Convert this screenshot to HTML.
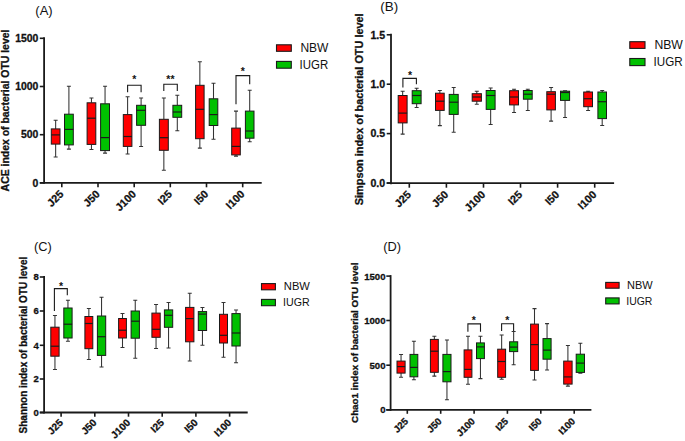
<!DOCTYPE html>
<html><head><meta charset="utf-8"><style>
html,body{margin:0;padding:0;background:#fff;}
svg{display:block;font-family:"Liberation Sans", sans-serif;}
.b{stroke:#111;stroke-width:0.3px;}
</style></head><body>
<svg width="685" height="441" viewBox="0 0 685 441">
<rect width="685" height="441" fill="#fff"/>
<g id="pA"><text x="35.3" y="14.9" font-size="13" fill="#111">(A)</text>
<text transform="translate(9.2,110.5) rotate(-90)" class="b" text-anchor="middle" font-weight="bold" font-size="10.45" fill="#111">ACE index of bacterial OTU level</text>
<line x1="44.1" y1="37.3" x2="44.1" y2="183.8" stroke="#1a1a1a" stroke-width="1.8"/>
<line x1="39.8" y1="38.3" x2="44.1" y2="38.3" stroke="#1a1a1a" stroke-width="1.6"/>
<text x="38.4" y="42.04" class="b" text-anchor="end" font-weight="bold" font-size="10.4" fill="#111">1500</text>
<line x1="39.8" y1="86.5" x2="44.1" y2="86.5" stroke="#1a1a1a" stroke-width="1.6"/>
<text x="38.4" y="90.24" class="b" text-anchor="end" font-weight="bold" font-size="10.4" fill="#111">1000</text>
<line x1="39.8" y1="134.7" x2="44.1" y2="134.7" stroke="#1a1a1a" stroke-width="1.6"/>
<text x="38.4" y="138.44" class="b" text-anchor="end" font-weight="bold" font-size="10.4" fill="#111">500</text>
<line x1="39.8" y1="182.8" x2="44.1" y2="182.8" stroke="#1a1a1a" stroke-width="1.6"/>
<text x="38.4" y="186.54" class="b" text-anchor="end" font-weight="bold" font-size="10.4" fill="#111">0</text>
<line x1="39.8" y1="182.8" x2="261.7" y2="182.8" stroke="#1a1a1a" stroke-width="1.8"/>
<line x1="61.8" y1="182.8" x2="61.8" y2="187.3" stroke="#1a1a1a" stroke-width="1.6"/>
<text transform="translate(64.3,194.8) rotate(-45)" class="b" text-anchor="end" font-weight="bold" font-size="10.8" fill="#111">J25</text>
<line x1="98" y1="182.8" x2="98" y2="187.3" stroke="#1a1a1a" stroke-width="1.6"/>
<text transform="translate(100.5,194.8) rotate(-45)" class="b" text-anchor="end" font-weight="bold" font-size="10.8" fill="#111">J50</text>
<line x1="134.2" y1="182.8" x2="134.2" y2="187.3" stroke="#1a1a1a" stroke-width="1.6"/>
<text transform="translate(136.7,194.8) rotate(-45)" class="b" text-anchor="end" font-weight="bold" font-size="10.8" fill="#111">J100</text>
<line x1="170.3" y1="182.8" x2="170.3" y2="187.3" stroke="#1a1a1a" stroke-width="1.6"/>
<text transform="translate(172.8,194.8) rotate(-45)" class="b" text-anchor="end" font-weight="bold" font-size="10.8" fill="#111">I25</text>
<line x1="206.5" y1="182.8" x2="206.5" y2="187.3" stroke="#1a1a1a" stroke-width="1.6"/>
<text transform="translate(209,194.8) rotate(-45)" class="b" text-anchor="end" font-weight="bold" font-size="10.8" fill="#111">I50</text>
<line x1="242.7" y1="182.8" x2="242.7" y2="187.3" stroke="#1a1a1a" stroke-width="1.6"/>
<text transform="translate(245.2,194.8) rotate(-45)" class="b" text-anchor="end" font-weight="bold" font-size="10.8" fill="#111">I100</text>
<path d="M55.65 120.2V128.9M55.65 144.1V157M53.65 120.2H57.65M53.65 157H57.65" stroke="#333" stroke-width="1.05" fill="none"/>
<rect x="51.3" y="128.9" width="8.7" height="15.2" fill="#ff0000" stroke="#1a1a1a" stroke-width="1.0"/>
<line x1="51.3" y1="134.9" x2="60" y2="134.9" stroke="#1a1a1a" stroke-width="1.2"/>
<path d="M68.9 86.3V114.2M68.9 144.9V149.1M66.9 86.3H70.9M66.9 149.1H70.9" stroke="#333" stroke-width="1.05" fill="none"/>
<rect x="64.5" y="114.2" width="8.8" height="30.7" fill="#00c000" stroke="#1a1a1a" stroke-width="1.0"/>
<line x1="64.5" y1="129.4" x2="73.3" y2="129.4" stroke="#1a1a1a" stroke-width="1.2"/>
<path d="M91.45 98V102.8M91.45 144.4V149.4M89.45 98H93.45M89.45 149.4H93.45" stroke="#333" stroke-width="1.05" fill="none"/>
<rect x="87.1" y="102.8" width="8.7" height="41.6" fill="#ff0000" stroke="#1a1a1a" stroke-width="1.0"/>
<line x1="87.1" y1="118.2" x2="95.8" y2="118.2" stroke="#1a1a1a" stroke-width="1.2"/>
<path d="M105.05 86.3V103.8M105.05 150.6V153.1M103.05 86.3H107.05M103.05 153.1H107.05" stroke="#333" stroke-width="1.05" fill="none"/>
<rect x="100.6" y="103.8" width="8.9" height="46.8" fill="#00c000" stroke="#1a1a1a" stroke-width="1.0"/>
<line x1="100.6" y1="137.6" x2="109.5" y2="137.6" stroke="#1a1a1a" stroke-width="1.2"/>
<path d="M127.6 96.8V114.6M127.6 146.4V153.9M125.6 96.8H129.6M125.6 153.9H129.6" stroke="#333" stroke-width="1.05" fill="none"/>
<rect x="123.3" y="114.6" width="8.6" height="31.8" fill="#ff0000" stroke="#1a1a1a" stroke-width="1.0"/>
<line x1="123.3" y1="136.5" x2="131.9" y2="136.5" stroke="#1a1a1a" stroke-width="1.2"/>
<path d="M141.1 98V105.3M141.1 125.3V146.4M139.1 98H143.1M139.1 146.4H143.1" stroke="#333" stroke-width="1.05" fill="none"/>
<rect x="136.6" y="105.3" width="9" height="20" fill="#00c000" stroke="#1a1a1a" stroke-width="1.0"/>
<line x1="136.6" y1="110.3" x2="145.6" y2="110.3" stroke="#1a1a1a" stroke-width="1.2"/>
<path d="M163.85 98V119.3M163.85 150.3V170.3M161.85 98H165.85M161.85 170.3H165.85" stroke="#333" stroke-width="1.05" fill="none"/>
<rect x="159.4" y="119.3" width="8.9" height="31" fill="#ff0000" stroke="#1a1a1a" stroke-width="1.0"/>
<line x1="159.4" y1="137.7" x2="168.3" y2="137.7" stroke="#1a1a1a" stroke-width="1.2"/>
<path d="M177.3 95.3V105.3M177.3 117.3V130.8M175.3 95.3H179.3M175.3 130.8H179.3" stroke="#333" stroke-width="1.05" fill="none"/>
<rect x="172.9" y="105.3" width="8.8" height="12" fill="#00c000" stroke="#1a1a1a" stroke-width="1.0"/>
<line x1="172.9" y1="112" x2="181.7" y2="112" stroke="#1a1a1a" stroke-width="1.2"/>
<path d="M199.85 61.7V85.3M199.85 138.7V148.1M197.85 61.7H201.85M197.85 148.1H201.85" stroke="#333" stroke-width="1.05" fill="none"/>
<rect x="195.6" y="85.3" width="8.5" height="53.4" fill="#ff0000" stroke="#1a1a1a" stroke-width="1.0"/>
<line x1="195.6" y1="109.3" x2="204.1" y2="109.3" stroke="#1a1a1a" stroke-width="1.2"/>
<path d="M213.5 83.3V98.8M213.5 125.5V139.2M211.5 83.3H215.5M211.5 139.2H215.5" stroke="#333" stroke-width="1.05" fill="none"/>
<rect x="209.2" y="98.8" width="8.6" height="26.7" fill="#00c000" stroke="#1a1a1a" stroke-width="1.0"/>
<line x1="209.2" y1="114.6" x2="217.8" y2="114.6" stroke="#1a1a1a" stroke-width="1.2"/>
<path d="M236 111.1V128.1M236 154.9V156.1M234 111.1H238M234 156.1H238" stroke="#333" stroke-width="1.05" fill="none"/>
<rect x="231.7" y="128.1" width="8.6" height="26.8" fill="#ff0000" stroke="#1a1a1a" stroke-width="1.0"/>
<line x1="231.7" y1="146.4" x2="240.3" y2="146.4" stroke="#1a1a1a" stroke-width="1.2"/>
<path d="M249.7 90.3V111.1M249.7 138.2V141.7M247.7 90.3H251.7M247.7 141.7H251.7" stroke="#333" stroke-width="1.05" fill="none"/>
<rect x="245.4" y="111.1" width="8.6" height="27.1" fill="#00c000" stroke="#1a1a1a" stroke-width="1.0"/>
<line x1="245.4" y1="131" x2="254" y2="131" stroke="#1a1a1a" stroke-width="1.2"/>
<path d="M127.6 92.3V85.3H141.1V92.3" stroke="#1a1a1a" stroke-width="1.1" fill="none"/>
<text x="134.4" y="83.3" text-anchor="middle" font-weight="bold" font-size="10.5" fill="#111">*</text>
<path d="M163.8 91V84.3H177.3V91" stroke="#1a1a1a" stroke-width="1.1" fill="none"/>
<text x="170.4" y="82.8" text-anchor="middle" font-weight="bold" font-size="10.5" fill="#111">**</text>
<path d="M236 104.3V75.6H249.7V84.3" stroke="#1a1a1a" stroke-width="1.1" fill="none"/>
<text x="242.8" y="74.5" text-anchor="middle" font-weight="bold" font-size="10.5" fill="#111">*</text>
<rect x="276.5" y="44.8" width="14.8" height="6.5" fill="#ff0000" stroke="#1a1a1a" stroke-width="1.1"/>
<text x="300.4" y="52.3" font-size="12" fill="#111">NBW</text>
<rect x="276.5" y="61.4" width="14.8" height="6.8" fill="#00c000" stroke="#1a1a1a" stroke-width="1.1"/>
<text x="299.6" y="68.8" font-size="12" fill="#111" textLength="28.6" lengthAdjust="spacingAndGlyphs">IUGR</text></g>
<g id="pB"><text x="380.3" y="11" font-size="13.4" fill="#111">(B)</text>
<text transform="translate(363.4,109.3) rotate(-90)" class="b" text-anchor="middle" font-weight="bold" font-size="10.9" fill="#111">Simpson index of bacterial OTU level</text>
<line x1="391" y1="33.8" x2="391" y2="184.2" stroke="#1a1a1a" stroke-width="1.8"/>
<line x1="386.7" y1="34.8" x2="391" y2="34.8" stroke="#1a1a1a" stroke-width="1.6"/>
<text x="385.2" y="38.62" class="b" text-anchor="end" font-weight="bold" font-size="10.6" fill="#111">1.5</text>
<line x1="386.7" y1="84.2" x2="391" y2="84.2" stroke="#1a1a1a" stroke-width="1.6"/>
<text x="385.2" y="88.02" class="b" text-anchor="end" font-weight="bold" font-size="10.6" fill="#111">1.0</text>
<line x1="386.7" y1="133.6" x2="391" y2="133.6" stroke="#1a1a1a" stroke-width="1.6"/>
<text x="385.2" y="137.42" class="b" text-anchor="end" font-weight="bold" font-size="10.6" fill="#111">0.5</text>
<line x1="386.7" y1="183" x2="391" y2="183" stroke="#1a1a1a" stroke-width="1.6"/>
<text x="385.2" y="186.82" class="b" text-anchor="end" font-weight="bold" font-size="10.6" fill="#111">0.0</text>
<line x1="386.7" y1="183.2" x2="614.1" y2="183.2" stroke="#1a1a1a" stroke-width="1.8"/>
<line x1="409.3" y1="183.2" x2="409.3" y2="187.7" stroke="#1a1a1a" stroke-width="1.6"/>
<text transform="translate(411.8,195.2) rotate(-45)" class="b" text-anchor="end" font-weight="bold" font-size="10.8" fill="#111">J25</text>
<line x1="446.4" y1="183.2" x2="446.4" y2="187.7" stroke="#1a1a1a" stroke-width="1.6"/>
<text transform="translate(448.9,195.2) rotate(-45)" class="b" text-anchor="end" font-weight="bold" font-size="10.8" fill="#111">J50</text>
<line x1="483.5" y1="183.2" x2="483.5" y2="187.7" stroke="#1a1a1a" stroke-width="1.6"/>
<text transform="translate(486,195.2) rotate(-45)" class="b" text-anchor="end" font-weight="bold" font-size="10.8" fill="#111">J100</text>
<line x1="520.5" y1="183.2" x2="520.5" y2="187.7" stroke="#1a1a1a" stroke-width="1.6"/>
<text transform="translate(523,195.2) rotate(-45)" class="b" text-anchor="end" font-weight="bold" font-size="10.8" fill="#111">I25</text>
<line x1="557.6" y1="183.2" x2="557.6" y2="187.7" stroke="#1a1a1a" stroke-width="1.6"/>
<text transform="translate(560.1,195.2) rotate(-45)" class="b" text-anchor="end" font-weight="bold" font-size="10.8" fill="#111">I50</text>
<line x1="594.7" y1="183.2" x2="594.7" y2="187.7" stroke="#1a1a1a" stroke-width="1.6"/>
<text transform="translate(597.2,195.2) rotate(-45)" class="b" text-anchor="end" font-weight="bold" font-size="10.8" fill="#111">I100</text>
<path d="M402.65 91.2V95.5M402.65 122.9V134.1M400.65 91.2H404.65M400.65 134.1H404.65" stroke="#333" stroke-width="1.05" fill="none"/>
<rect x="398.2" y="95.5" width="8.9" height="27.4" fill="#ff0000" stroke="#1a1a1a" stroke-width="1.0"/>
<line x1="398.2" y1="113.1" x2="407.1" y2="113.1" stroke="#1a1a1a" stroke-width="1.2"/>
<path d="M416.65 88.2V90.7M416.65 103.7V107.4M414.65 88.2H418.65M414.65 107.4H418.65" stroke="#333" stroke-width="1.05" fill="none"/>
<rect x="412.2" y="90.7" width="8.9" height="13" fill="#00c000" stroke="#1a1a1a" stroke-width="1.0"/>
<line x1="412.2" y1="95.5" x2="421.1" y2="95.5" stroke="#1a1a1a" stroke-width="1.2"/>
<path d="M439.85 90.5V93.2M439.85 110.4V125.6M437.85 90.5H441.85M437.85 125.6H441.85" stroke="#333" stroke-width="1.05" fill="none"/>
<rect x="435.5" y="93.2" width="8.7" height="17.2" fill="#ff0000" stroke="#1a1a1a" stroke-width="1.0"/>
<line x1="435.5" y1="101.2" x2="444.2" y2="101.2" stroke="#1a1a1a" stroke-width="1.2"/>
<path d="M453.7 87.5V94.4M453.7 114.4V132.3M451.7 87.5H455.7M451.7 132.3H455.7" stroke="#333" stroke-width="1.05" fill="none"/>
<rect x="449.2" y="94.4" width="9" height="20" fill="#00c000" stroke="#1a1a1a" stroke-width="1.0"/>
<line x1="449.2" y1="102.2" x2="458.2" y2="102.2" stroke="#1a1a1a" stroke-width="1.2"/>
<path d="M476.8 91.2V93.7M476.8 101.2V104.2M474.8 91.2H478.8M474.8 104.2H478.8" stroke="#333" stroke-width="1.05" fill="none"/>
<rect x="472.2" y="93.7" width="9.2" height="7.5" fill="#ff0000" stroke="#1a1a1a" stroke-width="1.0"/>
<line x1="472.2" y1="97" x2="481.4" y2="97" stroke="#1a1a1a" stroke-width="1.2"/>
<path d="M490.65 88V90.5M490.65 109.4V124.4M488.65 88H492.65M488.65 124.4H492.65" stroke="#333" stroke-width="1.05" fill="none"/>
<rect x="486.2" y="90.5" width="8.9" height="18.9" fill="#00c000" stroke="#1a1a1a" stroke-width="1.0"/>
<line x1="486.2" y1="95.5" x2="495.1" y2="95.5" stroke="#1a1a1a" stroke-width="1.2"/>
<path d="M514.05 89.2V90.7M514.05 104.9V112.4M512.05 89.2H516.05M512.05 112.4H516.05" stroke="#333" stroke-width="1.05" fill="none"/>
<rect x="509.6" y="90.7" width="8.9" height="14.2" fill="#ff0000" stroke="#1a1a1a" stroke-width="1.0"/>
<line x1="509.6" y1="97" x2="518.5" y2="97" stroke="#1a1a1a" stroke-width="1.2"/>
<path d="M527.8 89.2V90.5M527.8 99.2V110.4M525.8 89.2H529.8M525.8 110.4H529.8" stroke="#333" stroke-width="1.05" fill="none"/>
<rect x="523.4" y="90.5" width="8.8" height="8.7" fill="#00c000" stroke="#1a1a1a" stroke-width="1.0"/>
<line x1="523.4" y1="94.2" x2="532.2" y2="94.2" stroke="#1a1a1a" stroke-width="1.2"/>
<path d="M551.1 87.5V91.7M551.1 109.9V121.1M549.1 87.5H553.1M549.1 121.1H553.1" stroke="#333" stroke-width="1.05" fill="none"/>
<rect x="546.8" y="91.7" width="8.6" height="18.2" fill="#ff0000" stroke="#1a1a1a" stroke-width="1.0"/>
<line x1="546.8" y1="94.2" x2="555.4" y2="94.2" stroke="#1a1a1a" stroke-width="1.2"/>
<path d="M565.05 90.7V91.2M565.05 100.4V117.4M563.05 90.7H567.05M563.05 117.4H567.05" stroke="#333" stroke-width="1.05" fill="none"/>
<rect x="560.5" y="91.2" width="9.1" height="9.2" fill="#00c000" stroke="#1a1a1a" stroke-width="1.0"/>
<line x1="560.5" y1="92.5" x2="569.6" y2="92.5" stroke="#1a1a1a" stroke-width="1.2"/>
<path d="M588.1 91.2V92M588.1 106.7V110.4M586.1 91.2H590.1M586.1 110.4H590.1" stroke="#333" stroke-width="1.05" fill="none"/>
<rect x="583.7" y="92" width="8.8" height="14.7" fill="#ff0000" stroke="#1a1a1a" stroke-width="1.0"/>
<line x1="583.7" y1="98.7" x2="592.5" y2="98.7" stroke="#1a1a1a" stroke-width="1.2"/>
<path d="M602.2 90.5V92M602.2 118.6V125.4M600.2 90.5H604.2M600.2 125.4H604.2" stroke="#333" stroke-width="1.05" fill="none"/>
<rect x="597.9" y="92" width="8.6" height="26.6" fill="#00c000" stroke="#1a1a1a" stroke-width="1.0"/>
<line x1="597.9" y1="101.7" x2="606.5" y2="101.7" stroke="#1a1a1a" stroke-width="1.2"/>
<path d="M402.9 87.5V78.4H416.4V84.3" stroke="#1a1a1a" stroke-width="1.1" fill="none"/>
<text x="410.1" y="78.8" text-anchor="middle" font-weight="bold" font-size="10.5" fill="#111">*</text>
<rect x="629.8" y="41.7" width="15.2" height="6.7" fill="#ff0000" stroke="#1a1a1a" stroke-width="1.1"/>
<text x="654.4" y="49.4" font-size="12.2" fill="#111">NBW</text>
<rect x="629.8" y="58.5" width="15.2" height="7.1" fill="#00c000" stroke="#1a1a1a" stroke-width="1.1"/>
<text x="653.6" y="66.2" font-size="12.2" fill="#111" textLength="29.1" lengthAdjust="spacingAndGlyphs">IUGR</text></g>
<g id="pC"><text x="34" y="250.8" font-size="12.8" fill="#111">(C)</text>
<text transform="translate(26.9,345.1) rotate(-90)" class="b" text-anchor="middle" font-weight="bold" font-size="10.0" fill="#111">Shannon index of bacterial OTU level</text>
<line x1="44.1" y1="276" x2="44.1" y2="413.5" stroke="#1a1a1a" stroke-width="1.8"/>
<line x1="39.8" y1="277" x2="44.1" y2="277" stroke="#1a1a1a" stroke-width="1.6"/>
<text x="38.8" y="280.42" class="b" text-anchor="end" font-weight="bold" font-size="9.5" fill="#111">8</text>
<line x1="39.8" y1="311" x2="44.1" y2="311" stroke="#1a1a1a" stroke-width="1.6"/>
<text x="38.8" y="314.42" class="b" text-anchor="end" font-weight="bold" font-size="9.5" fill="#111">6</text>
<line x1="39.8" y1="345.3" x2="44.1" y2="345.3" stroke="#1a1a1a" stroke-width="1.6"/>
<text x="38.8" y="348.72" class="b" text-anchor="end" font-weight="bold" font-size="9.5" fill="#111">4</text>
<line x1="39.8" y1="379" x2="44.1" y2="379" stroke="#1a1a1a" stroke-width="1.6"/>
<text x="38.8" y="382.42" class="b" text-anchor="end" font-weight="bold" font-size="9.5" fill="#111">2</text>
<line x1="39.8" y1="412.5" x2="44.1" y2="412.5" stroke="#1a1a1a" stroke-width="1.6"/>
<text x="38.8" y="415.92" class="b" text-anchor="end" font-weight="bold" font-size="9.5" fill="#111">0</text>
<line x1="39.8" y1="412.5" x2="247.7" y2="412.5" stroke="#1a1a1a" stroke-width="1.8"/>
<line x1="61.1" y1="412.5" x2="61.1" y2="416.7" stroke="#1a1a1a" stroke-width="1.6"/>
<text transform="translate(63.6,423.3) rotate(-45)" class="b" text-anchor="end" font-weight="bold" font-size="10.1" fill="#111">J25</text>
<line x1="94.8" y1="412.5" x2="94.8" y2="416.7" stroke="#1a1a1a" stroke-width="1.6"/>
<text transform="translate(97.3,423.3) rotate(-45)" class="b" text-anchor="end" font-weight="bold" font-size="10.1" fill="#111">J50</text>
<line x1="128.5" y1="412.5" x2="128.5" y2="416.7" stroke="#1a1a1a" stroke-width="1.6"/>
<text transform="translate(131,423.3) rotate(-45)" class="b" text-anchor="end" font-weight="bold" font-size="10.1" fill="#111">J100</text>
<line x1="162.2" y1="412.5" x2="162.2" y2="416.7" stroke="#1a1a1a" stroke-width="1.6"/>
<text transform="translate(164.7,423.3) rotate(-45)" class="b" text-anchor="end" font-weight="bold" font-size="10.1" fill="#111">I25</text>
<line x1="195.9" y1="412.5" x2="195.9" y2="416.7" stroke="#1a1a1a" stroke-width="1.6"/>
<text transform="translate(198.4,423.3) rotate(-45)" class="b" text-anchor="end" font-weight="bold" font-size="10.1" fill="#111">I50</text>
<line x1="229.6" y1="412.5" x2="229.6" y2="416.7" stroke="#1a1a1a" stroke-width="1.6"/>
<text transform="translate(232.1,423.3) rotate(-45)" class="b" text-anchor="end" font-weight="bold" font-size="10.1" fill="#111">I100</text>
<path d="M54.95 315.5V327.2M54.95 356.2V369.4M52.95 315.5H56.95M52.95 369.4H56.95" stroke="#333" stroke-width="1.05" fill="none"/>
<rect x="50.8" y="327.2" width="8.3" height="29" fill="#ff0000" stroke="#1a1a1a" stroke-width="1.0"/>
<line x1="50.8" y1="346.2" x2="59.1" y2="346.2" stroke="#1a1a1a" stroke-width="1.2"/>
<path d="M67.95 300.3V308M67.95 338V341.2M65.95 300.3H69.95M65.95 341.2H69.95" stroke="#333" stroke-width="1.05" fill="none"/>
<rect x="63.8" y="308" width="8.3" height="30" fill="#00c000" stroke="#1a1a1a" stroke-width="1.0"/>
<line x1="63.8" y1="324.2" x2="72.1" y2="324.2" stroke="#1a1a1a" stroke-width="1.2"/>
<path d="M88.85 308.5V316.5M88.85 348.7V359.4M86.85 308.5H90.85M86.85 359.4H90.85" stroke="#333" stroke-width="1.05" fill="none"/>
<rect x="84.9" y="316.5" width="7.9" height="32.2" fill="#ff0000" stroke="#1a1a1a" stroke-width="1.0"/>
<line x1="84.9" y1="323.5" x2="92.8" y2="323.5" stroke="#1a1a1a" stroke-width="1.2"/>
<path d="M101.55 297.3V316M101.55 355.4V366.9M99.55 297.3H103.55M99.55 366.9H103.55" stroke="#333" stroke-width="1.05" fill="none"/>
<rect x="97.4" y="316" width="8.3" height="39.4" fill="#00c000" stroke="#1a1a1a" stroke-width="1.0"/>
<line x1="97.4" y1="336.7" x2="105.7" y2="336.7" stroke="#1a1a1a" stroke-width="1.2"/>
<path d="M122.5 313.5V318.5M122.5 338V347.4M120.5 313.5H124.5M120.5 347.4H124.5" stroke="#333" stroke-width="1.05" fill="none"/>
<rect x="118.6" y="318.5" width="7.8" height="19.5" fill="#ff0000" stroke="#1a1a1a" stroke-width="1.0"/>
<line x1="118.6" y1="330.2" x2="126.4" y2="330.2" stroke="#1a1a1a" stroke-width="1.2"/>
<path d="M135.25 300.3V311M135.25 338.2V358.2M133.25 300.3H137.25M133.25 358.2H137.25" stroke="#333" stroke-width="1.05" fill="none"/>
<rect x="131.1" y="311" width="8.3" height="27.2" fill="#00c000" stroke="#1a1a1a" stroke-width="1.0"/>
<line x1="131.1" y1="321.2" x2="139.4" y2="321.2" stroke="#1a1a1a" stroke-width="1.2"/>
<path d="M156.05 304.4V313.1M156.05 337.3V348.5M154.05 304.4H158.05M154.05 348.5H158.05" stroke="#333" stroke-width="1.05" fill="none"/>
<rect x="151.9" y="313.1" width="8.3" height="24.2" fill="#ff0000" stroke="#1a1a1a" stroke-width="1.0"/>
<line x1="151.9" y1="329.3" x2="160.2" y2="329.3" stroke="#1a1a1a" stroke-width="1.2"/>
<path d="M168.55 302.4V309.9M168.55 327.3V348M166.55 302.4H170.55M166.55 348H170.55" stroke="#333" stroke-width="1.05" fill="none"/>
<rect x="164.4" y="309.9" width="8.3" height="17.4" fill="#00c000" stroke="#1a1a1a" stroke-width="1.0"/>
<line x1="164.4" y1="315.3" x2="172.7" y2="315.3" stroke="#1a1a1a" stroke-width="1.2"/>
<path d="M189.75 293.2V307.4M189.75 341.8V361M187.75 293.2H191.75M187.75 361H191.75" stroke="#333" stroke-width="1.05" fill="none"/>
<rect x="185.6" y="307.4" width="8.3" height="34.4" fill="#ff0000" stroke="#1a1a1a" stroke-width="1.0"/>
<line x1="185.6" y1="318.6" x2="193.9" y2="318.6" stroke="#1a1a1a" stroke-width="1.2"/>
<path d="M202.45 307.4V311.6M202.45 330.5V345.2M200.45 307.4H204.45M200.45 345.2H204.45" stroke="#333" stroke-width="1.05" fill="none"/>
<rect x="198.3" y="311.6" width="8.3" height="18.9" fill="#00c000" stroke="#1a1a1a" stroke-width="1.0"/>
<line x1="198.3" y1="314.1" x2="206.6" y2="314.1" stroke="#1a1a1a" stroke-width="1.2"/>
<path d="M223.5 302.4V314.3M223.5 343V357.2M221.5 302.4H225.5M221.5 357.2H225.5" stroke="#333" stroke-width="1.05" fill="none"/>
<rect x="219.5" y="314.3" width="8" height="28.7" fill="#ff0000" stroke="#1a1a1a" stroke-width="1.0"/>
<line x1="219.5" y1="335.3" x2="227.5" y2="335.3" stroke="#1a1a1a" stroke-width="1.2"/>
<path d="M236.05 309.9V313.6M236.05 346V362.7M234.05 309.9H238.05M234.05 362.7H238.05" stroke="#333" stroke-width="1.05" fill="none"/>
<rect x="231.9" y="313.6" width="8.3" height="32.4" fill="#00c000" stroke="#1a1a1a" stroke-width="1.0"/>
<line x1="231.9" y1="333" x2="240.2" y2="333" stroke="#1a1a1a" stroke-width="1.2"/>
<path d="M54.4 311V288.6H67.3V295.3" stroke="#1a1a1a" stroke-width="1.1" fill="none"/>
<text x="61" y="290.3" text-anchor="middle" font-weight="bold" font-size="10.5" fill="#111">*</text>
<rect x="261.5" y="283.6" width="13.9" height="6.2" fill="#ff0000" stroke="#1a1a1a" stroke-width="1.1"/>
<text x="283.8" y="290.4" font-size="11.2" fill="#111">NBW</text>
<rect x="261.5" y="299.4" width="13.9" height="6.3" fill="#00c000" stroke="#1a1a1a" stroke-width="1.1"/>
<text x="283" y="306.3" font-size="11.2" fill="#111" textLength="26.6" lengthAdjust="spacingAndGlyphs">IUGR</text></g>
<g id="pD"><text x="383.2" y="250.8" font-size="12.8" fill="#111">(D)</text>
<text transform="translate(358,342.7) rotate(-90)" class="b" text-anchor="middle" font-weight="bold" font-size="9.76" fill="#111">Chao1 index of bacterial OTU level</text>
<line x1="390.6" y1="275.1" x2="390.6" y2="410.8" stroke="#1a1a1a" stroke-width="1.8"/>
<line x1="386.3" y1="276.1" x2="390.6" y2="276.1" stroke="#1a1a1a" stroke-width="1.6"/>
<text x="385.5" y="279.56" class="b" text-anchor="end" font-weight="bold" font-size="9.6" fill="#111">1500</text>
<line x1="386.3" y1="320.5" x2="390.6" y2="320.5" stroke="#1a1a1a" stroke-width="1.6"/>
<text x="385.5" y="323.96" class="b" text-anchor="end" font-weight="bold" font-size="9.6" fill="#111">1000</text>
<line x1="386.3" y1="365.2" x2="390.6" y2="365.2" stroke="#1a1a1a" stroke-width="1.6"/>
<text x="385.5" y="368.66" class="b" text-anchor="end" font-weight="bold" font-size="9.6" fill="#111">500</text>
<line x1="386.3" y1="409.8" x2="390.6" y2="409.8" stroke="#1a1a1a" stroke-width="1.6"/>
<text x="385.5" y="413.26" class="b" text-anchor="end" font-weight="bold" font-size="9.6" fill="#111">0</text>
<line x1="386.3" y1="409.8" x2="591.4" y2="409.8" stroke="#1a1a1a" stroke-width="1.8"/>
<line x1="407.3" y1="409.8" x2="407.3" y2="413.8" stroke="#1a1a1a" stroke-width="1.6"/>
<text transform="translate(408.8,422) rotate(-45)" class="b" text-anchor="end" font-weight="bold" font-size="9.6" fill="#111">J25</text>
<line x1="440.7" y1="409.8" x2="440.7" y2="413.8" stroke="#1a1a1a" stroke-width="1.6"/>
<text transform="translate(442.2,422) rotate(-45)" class="b" text-anchor="end" font-weight="bold" font-size="9.6" fill="#111">J50</text>
<line x1="474.1" y1="409.8" x2="474.1" y2="413.8" stroke="#1a1a1a" stroke-width="1.6"/>
<text transform="translate(475.6,422) rotate(-45)" class="b" text-anchor="end" font-weight="bold" font-size="9.6" fill="#111">J100</text>
<line x1="507.4" y1="409.8" x2="507.4" y2="413.8" stroke="#1a1a1a" stroke-width="1.6"/>
<text transform="translate(508.9,422) rotate(-45)" class="b" text-anchor="end" font-weight="bold" font-size="9.6" fill="#111">I25</text>
<line x1="540.8" y1="409.8" x2="540.8" y2="413.8" stroke="#1a1a1a" stroke-width="1.6"/>
<text transform="translate(542.3,422) rotate(-45)" class="b" text-anchor="end" font-weight="bold" font-size="9.6" fill="#111">I50</text>
<line x1="574.2" y1="409.8" x2="574.2" y2="413.8" stroke="#1a1a1a" stroke-width="1.6"/>
<text transform="translate(575.7,422) rotate(-45)" class="b" text-anchor="end" font-weight="bold" font-size="9.6" fill="#111">I100</text>
<path d="M401.05 354.4V361.1M401.05 373.1V377.3M399.05 354.4H403.05M399.05 377.3H403.05" stroke="#333" stroke-width="1.05" fill="none"/>
<rect x="397" y="361.1" width="8.1" height="12" fill="#ff0000" stroke="#1a1a1a" stroke-width="1.0"/>
<line x1="397" y1="366.6" x2="405.1" y2="366.6" stroke="#1a1a1a" stroke-width="1.2"/>
<path d="M413.9 341.2V354.4M413.9 376.8V379.8M411.9 341.2H415.9M411.9 379.8H415.9" stroke="#333" stroke-width="1.05" fill="none"/>
<rect x="410" y="354.4" width="7.8" height="22.4" fill="#00c000" stroke="#1a1a1a" stroke-width="1.0"/>
<line x1="410" y1="367.4" x2="417.8" y2="367.4" stroke="#1a1a1a" stroke-width="1.2"/>
<path d="M434.35 336.2V339.4M434.35 372.3V376.1M432.35 336.2H436.35M432.35 376.1H436.35" stroke="#333" stroke-width="1.05" fill="none"/>
<rect x="430.4" y="339.4" width="7.9" height="32.9" fill="#ff0000" stroke="#1a1a1a" stroke-width="1.0"/>
<line x1="430.4" y1="351.2" x2="438.3" y2="351.2" stroke="#1a1a1a" stroke-width="1.2"/>
<path d="M446.95 340V354.4M446.95 381.8V399.8M444.95 340H448.95M444.95 399.8H448.95" stroke="#333" stroke-width="1.05" fill="none"/>
<rect x="442.9" y="354.4" width="8.1" height="27.4" fill="#00c000" stroke="#1a1a1a" stroke-width="1.0"/>
<line x1="442.9" y1="371.6" x2="451" y2="371.6" stroke="#1a1a1a" stroke-width="1.2"/>
<path d="M468 336.2V349.9M468 377.3V384.3M466 336.2H470M466 384.3H470" stroke="#333" stroke-width="1.05" fill="none"/>
<rect x="464.1" y="349.9" width="7.8" height="27.4" fill="#ff0000" stroke="#1a1a1a" stroke-width="1.0"/>
<line x1="464.1" y1="369.4" x2="471.9" y2="369.4" stroke="#1a1a1a" stroke-width="1.2"/>
<path d="M480.45 336.2V342.9M480.45 358.6V378.6M478.45 336.2H482.45M478.45 378.6H482.45" stroke="#333" stroke-width="1.05" fill="none"/>
<rect x="476.5" y="342.9" width="7.9" height="15.7" fill="#00c000" stroke="#1a1a1a" stroke-width="1.0"/>
<line x1="476.5" y1="346.9" x2="484.4" y2="346.9" stroke="#1a1a1a" stroke-width="1.2"/>
<path d="M501.65 335V349.2M501.65 377.3V379.2M499.65 335H503.65M499.65 379.2H503.65" stroke="#333" stroke-width="1.05" fill="none"/>
<rect x="497.7" y="349.2" width="7.9" height="28.1" fill="#ff0000" stroke="#1a1a1a" stroke-width="1.0"/>
<line x1="497.7" y1="361.5" x2="505.6" y2="361.5" stroke="#1a1a1a" stroke-width="1.2"/>
<path d="M513.65 331.5V341.8M513.65 351.6V364.8M511.65 331.5H515.65M511.65 364.8H515.65" stroke="#333" stroke-width="1.05" fill="none"/>
<rect x="509.6" y="341.8" width="8.1" height="9.8" fill="#00c000" stroke="#1a1a1a" stroke-width="1.0"/>
<line x1="509.6" y1="347.1" x2="517.7" y2="347.1" stroke="#1a1a1a" stroke-width="1.2"/>
<path d="M534.5 308.6V324.1M534.5 370.4V379.9M532.5 308.6H536.5M532.5 379.9H536.5" stroke="#333" stroke-width="1.05" fill="none"/>
<rect x="530.6" y="324.1" width="7.8" height="46.3" fill="#ff0000" stroke="#1a1a1a" stroke-width="1.0"/>
<line x1="530.6" y1="344.6" x2="538.4" y2="344.6" stroke="#1a1a1a" stroke-width="1.2"/>
<path d="M547.05 323.6V338.6M547.05 359.2V369.9M545.05 323.6H549.05M545.05 369.9H549.05" stroke="#333" stroke-width="1.05" fill="none"/>
<rect x="543" y="338.6" width="8.1" height="20.6" fill="#00c000" stroke="#1a1a1a" stroke-width="1.0"/>
<line x1="543" y1="350.1" x2="551.1" y2="350.1" stroke="#1a1a1a" stroke-width="1.2"/>
<path d="M567.9 345.5V361.1M567.9 384.1V386.1M565.9 345.5H569.9M565.9 386.1H569.9" stroke="#333" stroke-width="1.05" fill="none"/>
<rect x="563.7" y="361.1" width="8.4" height="23" fill="#ff0000" stroke="#1a1a1a" stroke-width="1.0"/>
<line x1="563.7" y1="376.9" x2="572.1" y2="376.9" stroke="#1a1a1a" stroke-width="1.2"/>
<path d="M580.35 343.3V354.2M580.35 372.4V373.1M578.35 343.3H582.35M578.35 373.1H582.35" stroke="#333" stroke-width="1.05" fill="none"/>
<rect x="576.2" y="354.2" width="8.3" height="18.2" fill="#00c000" stroke="#1a1a1a" stroke-width="1.0"/>
<line x1="576.2" y1="363.1" x2="584.5" y2="363.1" stroke="#1a1a1a" stroke-width="1.2"/>
<path d="M467.9 331.8V323.9H480.5V331.8" stroke="#1a1a1a" stroke-width="1.1" fill="none"/>
<text x="473.8" y="324.4" text-anchor="middle" font-weight="bold" font-size="10.5" fill="#111">*</text>
<path d="M501.6 331V323.8H513.6V331" stroke="#1a1a1a" stroke-width="1.1" fill="none"/>
<text x="507.4" y="324.4" text-anchor="middle" font-weight="bold" font-size="10.5" fill="#111">*</text>
<rect x="605.7" y="282.4" width="13.4" height="5.8" fill="#ff0000" stroke="#1a1a1a" stroke-width="1.1"/>
<text x="627.1" y="288.8" font-size="11" fill="#111">NBW</text>
<rect x="605.7" y="297.9" width="13.4" height="6" fill="#00c000" stroke="#1a1a1a" stroke-width="1.1"/>
<text x="626.3" y="304.5" font-size="11" fill="#111" textLength="26.1" lengthAdjust="spacingAndGlyphs">IUGR</text></g>
</svg>
</body></html>
